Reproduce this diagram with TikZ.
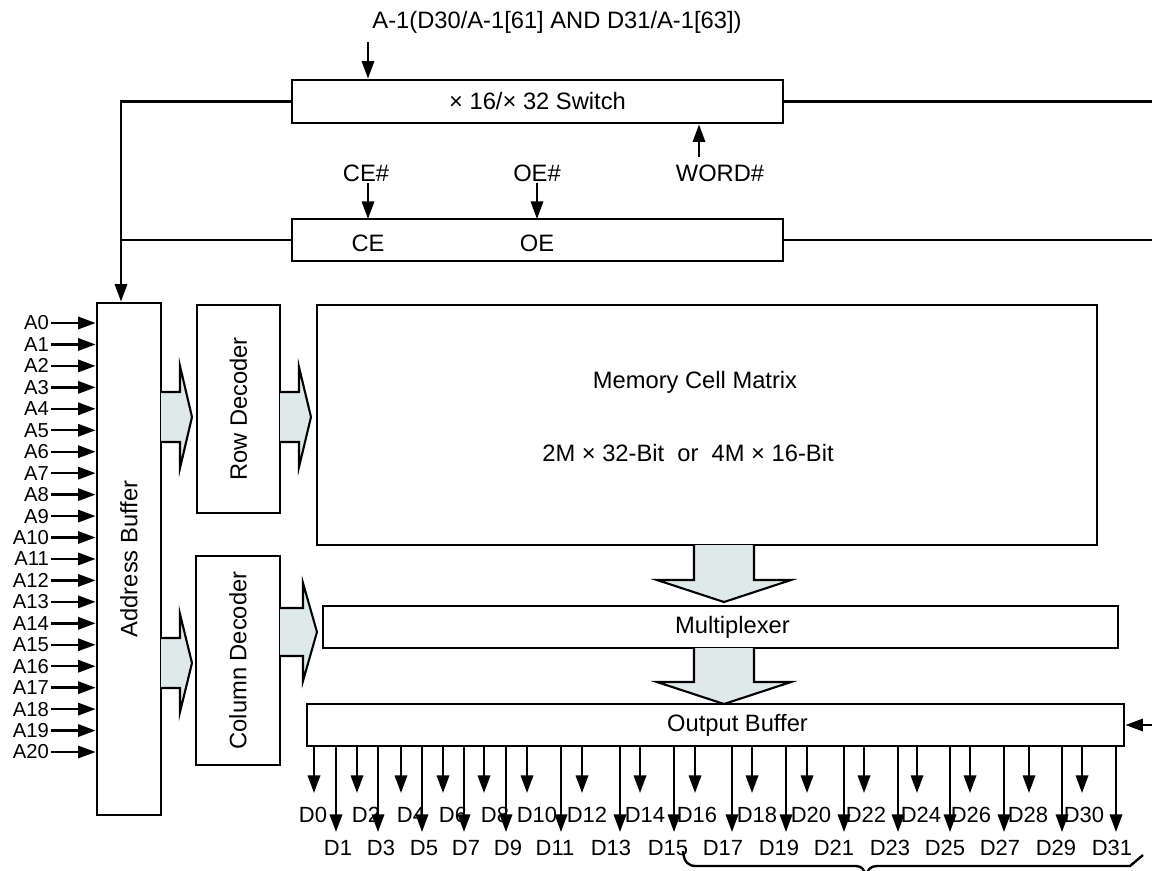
\documentclass[tikz,border=0pt]{standalone}
\usepackage{fontspec}
\setmainfont{Liberation Sans}
\definecolor{blkFill}{HTML}{DEEAE9}
\usetikzlibrary{arrows.meta, positioning, calc, fit}

\begin{document}
\begin{tikzpicture}[x=0.02cm, y=-0.02cm,
  font=\fontsize{13.5}{16}\selectfont,
  box/.style={draw, line width=1.6pt, inner sep=0pt},
  wire/.style={line width=1.35pt},
  sig/.style={wire, -{Triangle[length=10pt, width=7pt]}},
  blk/.style={draw, line width=1.2pt, fill=blkFill, line join=miter},
  pin/.style={font=\fontsize{11.5}{13}\selectfont, inner sep=1pt},
  dpin/.style={font=\fontsize{12.5}{14}\selectfont, inner sep=1pt}]

  \useasboundingbox (0,0) rectangle (1152,870);

  % control blocks
  \node[box, fit={(292,80) (783,123)}] (sw) {};
  \node at (sw) {× 16/× 32 Switch};
  \node[box, fit={(292,219) (783,261)}] (ctl) {};
  \node (ceT) at (368,243) {CE};
  \node (oeT) at (537,243) {OE};

  % main blocks
  \node[box, fit={(97,303) (161,815)}] (ab) {};
  \node[rotate=90] at (ab) {Address Buffer};
  \node[box, fit={(197,305) (280,513)}] (rd) {};
  \node[rotate=90] at (rd) {Row Decoder};
  \node[box, fit={(196,556) (280,765)}] (cd) {};
  \node[rotate=90] at (cd) {Column Decoder};
  \node[box, fit={(317,305) (1097,545)}] (mem) {};
  \node (memT) at (695,382) {Memory Cell Matrix};
  \node (memS) at (688,453) {2M × 32-Bit~~or~~4M × 16-Bit};
  \node[box, fit={(323,606) (1118,648)}] (mux) {};
  \node at ($(mux)+(12,0)$) {Multiplexer};
  \node[box, fit={(307,704) (1124,746)}] (ob) {};
  \node at ($(ob)+(22,0)$) {Output Buffer};

  % control inputs
  \node (a1T) at (557,22) {A-1(D30/A-1[61] AND D31/A-1[63])};
  \coordinate (a1In) at (368,42);
  \draw[sig] (a1In) -- (a1In |- sw.north);
  \node (ceIn) at (366,173) {CE\#};
  \draw[sig] (368,183) -- (368,219);
  \node (oeIn) at (537,173) {OE\#};
  \draw[sig] (537,183) -- (537,219);
  \node (wordIn) at (720,173) {WORD\#};
  \coordinate (wd) at (699,157);
  \draw[sig] (wd) -- (wd |- sw.south);

  % bus lines
  \coordinate (abIn) at ($(ab.north)+(-8,0)$);
  \coordinate (rEdge) at (1152,0);
  \draw[sig] (sw.west) -| (abIn);
  \draw[wire] (ctl.west) -- (ctl.west -| abIn);
  \draw[wire] (sw.east) -- (sw.east -| rEdge);
  \draw[wire] (ctl.east) -- (ctl.east -| rEdge);
  \draw[sig] (ob.east -| rEdge) -- (ob.east);

  % address pins
  \foreach \i in {0,...,20} {
    \node[pin, anchor=east] (a\i) at (51,{323+21.45*\i}) {A\i};
    \draw[sig] (a\i.east) -- (a\i.east -| ab.west);
  }

  % block arrows (right)
  \foreach \xa/\ya/\s/\h/\a/\b in {161/417/19/12/25/51, 280/417/19/12/25/50,
      161/663/19/12/25/49, 280/632/23/14/24/49} {
    \draw[blk] (\xa,\ya-\a) -- (\xa+\s,\ya-\a) -- (\xa+\s,\ya-\b) -- (\xa+\s+\h,\ya)
      -- (\xa+\s,\ya+\b) -- (\xa+\s,\ya+\a) -- (\xa,\ya+\a);
  }
  % block arrows (down)
  \foreach \ya/\s/\h in {545/35/22, 648/34/22} {
    \draw[blk] (694,\ya) -- (694,\ya+\s) -- (657,\ya+\s) -- (724,\ya+\s+\h)
      -- (791,\ya+\s) -- (754,\ya+\s) -- (754,\ya);
  }

  % data outputs
  \foreach \n/\ax/\lx in {0/314/313, 2/357/366, 4/401/411, 6/443/453, 8/484/495,
      10/527/537, 12/582/587, 14/640/645, 16/695/697, 18/752/757, 20/807/811,
      22/864/866, 24/917/921, 26/970/971, 28/1029/1028, 30/1082/1084} {
    \coordinate (t\n) at (\ax,793);
    \node[dpin] (d\n) at (\lx,815) {D\n};
    \draw[sig] (ob.south -| t\n) -- (t\n);
  }
  \foreach \n/\ax/\lx in {1/336/338, 3/378/381, 5/422/424, 7/464/466, 9/506/508,
      11/561/555, 13/620/611, 15/674/668, 17/732/723, 19/786/779, 21/844/834,
      23/898/890, 25/950/945, 27/1004/1000, 29/1062/1056, 31/1116/1112} {
    \coordinate (t\n) at (\ax,832);
    \node[dpin] (d\n) at (\lx,848) {D\n};
    \draw[sig] (ob.south -| t\n) -- (t\n);
  }

  % brace under upper half
  \draw[wire] (683,851) .. controls (684,862) and (688,866) .. (696,866) -- (856,866)
    .. controls (862,866) and (865,870) .. (866,878)
    .. controls (867,870) and (870,866) .. (877,866) -- (1130,866) -- (1143,855);
\end{tikzpicture}
\end{document}
